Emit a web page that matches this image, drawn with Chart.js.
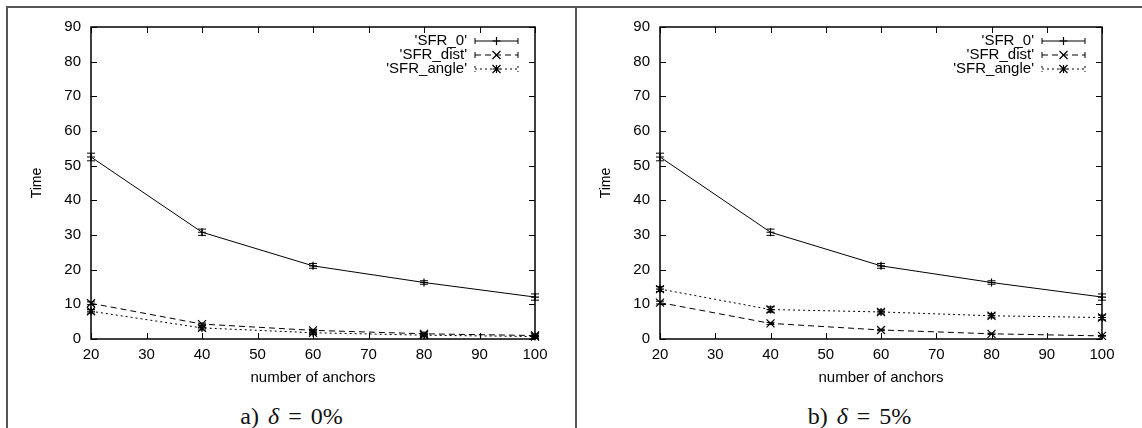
<!DOCTYPE html>
<html>
<head>
<meta charset="utf-8">
<script src="https://cdn.jsdelivr.net/npm/chart.js@4.4.0/dist/chart.umd.min.js"></script>
<style>
  html, body { margin: 0; padding: 0; background: #fff; }
  #page { position: relative; width: 1142px; height: 428px; overflow: hidden; }
  .rule { position: absolute; background: #555; }
  .panel { position: absolute; top: 8px; width: 567px; height: 395px; }
  .caption {
    position: absolute; top: 403px; width: 567px; text-align: center;
    font: 24px "Liberation Serif", serif; color: #111; word-spacing: 3px;
  }
  .caption i { font-style: italic; }
</style>
</head>
<body>
<div id="page">
  <div class="rule" style="left:6px;top:6px;width:1136px;height:2px;"></div>
  <div class="rule" style="left:6px;top:6px;width:2px;height:422px;"></div>
  <div class="rule" style="left:575px;top:6px;width:2px;height:422px;"></div>

  <div class="panel" style="left:8px;"><canvas id="chartA" width="567" height="395"></canvas></div>
  <div class="panel" style="left:577px;"><canvas id="chartB" width="565" height="395"></canvas></div>

  <div class="caption" style="left:8px;">a) <i>δ</i> = 0%</div>
  <div class="caption" style="left:577px;width:565px;">b) <i>δ</i> = 5%</div>
</div>

<script>
/* ── Data ──────────────────────────────────────────────────── */
const anchors = [20, 40, 60, 80, 100];
const xTickValues = [20, 30, 40, 50, 60, 70, 80, 90, 100];
const yTickValues = [0, 10, 20, 30, 40, 50, 60, 70, 80, 90];

const sfr0 = [52.5, 30.8, 21.1, 16.3, 12.1];
const sfr0Err = [1.1, 0.9, 0.7, 0.5, 0.9];

// a) delta = 0%
const distA = [10.3, 4.3, 2.5, 1.5, 1.0];
const distAErr = [0.4, 0.3, 0.2, 0.2, 0.1];
const angleA = [8.0, 3.2, 1.8, 1.1, 0.7];
const angleAErr = [0.5, 0.6, 0.5, 0.4, 0.4];

// b) delta = 5%
const distB = [10.5, 4.5, 2.6, 1.5, 0.9];
const distBErr = [0.4, 0.3, 0.2, 0.2, 0.1];
const angleB = [14.4, 8.5, 7.8, 6.7, 6.2];
const angleBErr = [0.7, 0.8, 0.6, 0.6, 0.7];

const seriesLabels = ["'SFR_0'", "'SFR_dist'", "'SFR_angle'"];

/* ── Style ─────────────────────────────────────────────────── */
const FONT = '"Liberation Sans", Arial, Helvetica, sans-serif';
const INK = '#000';
const DASHES = [[], [6, 4], [2, 3]];
const MARKERS = ['plus', 'cross', 'star'];

/* Draw a gnuplot-ish point marker */
function drawMarker(ctx, kind, x, y, r) {
    ctx.save();
    ctx.setLineDash([]);
    ctx.strokeStyle = INK;
    ctx.lineWidth = 1.2;
    ctx.beginPath();
    if (kind === 'plus' || kind === 'star') {
        ctx.moveTo(x - r, y); ctx.lineTo(x + r, y);
        ctx.moveTo(x, y - r); ctx.lineTo(x, y + r);
    }
    if (kind === 'cross' || kind === 'star') {
        ctx.moveTo(x - r, y - r); ctx.lineTo(x + r, y + r);
        ctx.moveTo(x - r, y + r); ctx.lineTo(x + r, y - r);
    }
    ctx.stroke();
    ctx.restore();
}

/* Box, inward ticks, error bars, markers and the gnuplot key */
const gnuplotFrame = {
    id: 'gnuplotFrame',
    afterDatasetsDraw(chart) {
        const { ctx, scales: { x, y } } = chart;
        chart.data.datasets.forEach((ds, i) => {
            ctx.save();
            ctx.strokeStyle = INK;
            ctx.lineWidth = 1;
            ds.values.forEach((v, j) => {
                const px = x.getPixelForValue(anchors[j]);
                const e = ds.err[j];
                const top = y.getPixelForValue(v + e);
                const bot = y.getPixelForValue(Math.max(v - e, 0));
                ctx.beginPath();
                ctx.moveTo(px, top); ctx.lineTo(px, bot);
                ctx.moveTo(px - 4, top); ctx.lineTo(px + 4, top);
                ctx.moveTo(px - 4, bot); ctx.lineTo(px + 4, bot);
                ctx.stroke();
                drawMarker(ctx, MARKERS[i], px, y.getPixelForValue(v), 4);
            });
            ctx.restore();
        });
    },
    afterDraw(chart) {
        const { ctx, chartArea: a, scales: { x, y } } = chart;
        ctx.save();
        ctx.strokeStyle = INK;
        ctx.lineWidth = 1.5;
        ctx.strokeRect(a.left, a.top, a.right - a.left, a.bottom - a.top);

        ctx.lineWidth = 1;
        ctx.beginPath();
        xTickValues.forEach(v => {
            const px = Math.round(x.getPixelForValue(v)) + 0.5;
            ctx.moveTo(px, a.bottom); ctx.lineTo(px, a.bottom - 6);
            ctx.moveTo(px, a.top); ctx.lineTo(px, a.top + 6);
        });
        yTickValues.forEach(v => {
            const py = Math.round(y.getPixelForValue(v)) + 0.5;
            ctx.moveTo(a.left, py); ctx.lineTo(a.left + 6, py);
            ctx.moveTo(a.right, py); ctx.lineTo(a.right - 6, py);
        });
        ctx.stroke();

        // key, top right inside the box
        ctx.font = '15px ' + FONT;
        ctx.fillStyle = INK;
        ctx.textAlign = 'right';
        ctx.textBaseline = 'middle';
        chart.data.datasets.forEach((ds, i) => {
            const ry = a.top + 14 + i * 14;
            ctx.fillText(ds.label, a.right - 68, ry);
            const x0 = a.right - 60, x1 = a.right - 17;
            ctx.setLineDash(DASHES[i]);
            ctx.beginPath();
            ctx.moveTo(x0, ry); ctx.lineTo(x1, ry);
            ctx.moveTo(x0, ry - 3); ctx.lineTo(x0, ry + 3);
            ctx.moveTo(x1, ry - 3); ctx.lineTo(x1, ry + 3);
            ctx.stroke();
            ctx.setLineDash([]);
            drawMarker(ctx, MARKERS[i], (x0 + x1) / 2, ry, 4);
        });
        ctx.restore();
    },
};

function makeDataset(label, values, err, i) {
    return {
        label,
        data: values.map((v, j) => ({ x: anchors[j], y: v })),
        values,
        err,
        borderColor: INK,
        borderWidth: 1,
        borderDash: DASHES[i],
        pointRadius: 0,
        fill: false,
        tension: 0,
    };
}

function makeChart(id, dist, distErr, angle, angleErr) {
    return new Chart(document.getElementById(id), {
        type: 'line',
        data: {
            datasets: [
                makeDataset(seriesLabels[0], sfr0, sfr0Err, 0),
                makeDataset(seriesLabels[1], dist, distErr, 1),
                makeDataset(seriesLabels[2], angle, angleErr, 2),
            ],
        },
        options: {
            responsive: false,
            animation: false,
            devicePixelRatio: 1,
            layout: { padding: { left: 17, right: 40, top: 18, bottom: 12 } },
            plugins: { legend: { display: false }, tooltip: { enabled: false } },
            scales: {
                x: {
                    type: 'linear',
                    min: 20, max: 100,
                    afterBuildTicks: s => { s.ticks = xTickValues.map(v => ({ value: v })); },
                    afterFit: s => { s.height = 52; },
                    grid: { display: false, drawTicks: false },
                    border: { display: false },
                    ticks: { color: INK, padding: 7, font: { size: 15, family: FONT }, maxRotation: 0 },
                    title: { display: true, text: 'number of anchors', color: INK, font: { size: 15, family: FONT } },
                },
                y: {
                    min: 0, max: 90,
                    afterBuildTicks: s => { s.ticks = yTickValues.map(v => ({ value: v })); },
                    afterFit: s => { s.width = 66; },
                    grid: { display: false, drawTicks: false },
                    border: { display: false },
                    ticks: { color: INK, padding: 10, font: { size: 15, family: FONT } },
                    title: { display: true, text: 'Time', color: INK, font: { size: 14, family: FONT } },
                },
            },
        },
        plugins: [gnuplotFrame],
    });
}

Chart.defaults.font.family = FONT;
const chartA = makeChart('chartA', distA, distAErr, angleA, angleAErr);
const chartB = makeChart('chartB', distB, distBErr, angleB, angleBErr);
</script>
</body>
</html>
